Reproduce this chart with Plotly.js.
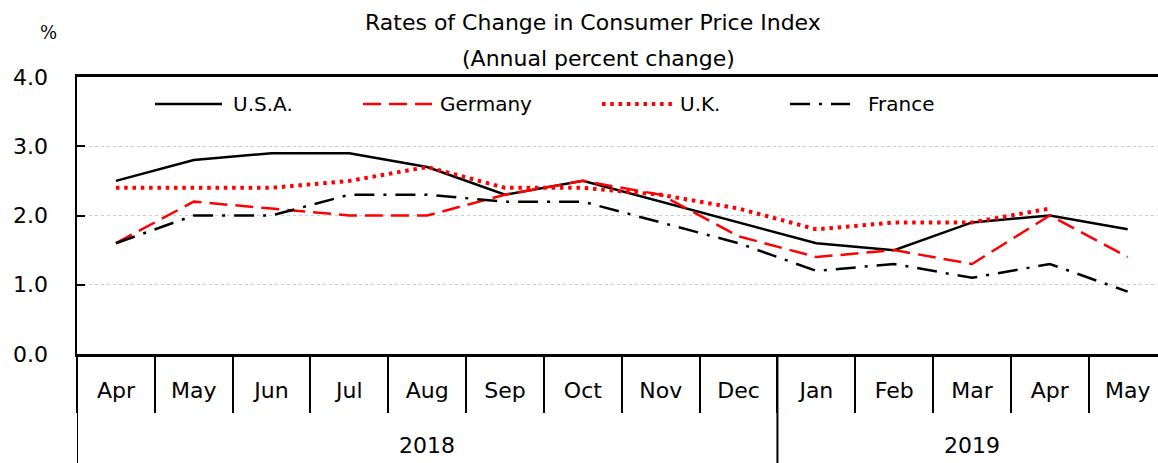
<!DOCTYPE html>
<html>
<head>
<meta charset="utf-8">
<script src="https://cdn.plot.ly/plotly-3.0.1.min.js"></script>
<style>html,body{margin:0;padding:0;background:#fff;}</style>
</head>
<body>
<div id="chart" style="width:1158px;height:463px;"></div>
<script>
const years = ['2018','2018','2018','2018','2018','2018','2018','2018','2018','2019','2019','2019','2019','2019'];
const months = ['Apr','May','Jun','Jul','Aug','Sep','Oct','Nov','Dec','Jan','Feb','Mar','Apr','May'];
const usa = [2.5, 2.8, 2.9, 2.9, 2.7, 2.3, 2.5, 2.2, 1.9, 1.6, 1.5, 1.9, 2.0, 1.8];
const germany = [1.6, 2.2, 2.1, 2.0, 2.0, 2.3, 2.5, 2.3, 1.7, 1.4, 1.5, 1.3, 2.0, 1.4];
const uk = [2.4, 2.4, 2.4, 2.5, 2.7, 2.4, 2.4, 2.3, 2.1, 1.8, 1.9, 1.9, 2.1, null];
const france = [1.6, 2.0, 2.0, 2.3, 2.3, 2.2, 2.2, 1.9, 1.6, 1.2, 1.3, 1.1, 1.3, 0.9];
const yTicks = [0, 1, 2, 3, 4];
const yearLabels = ['2018', '2019'];
const seriesNames = ['U.S.A.', 'Germany', 'U.K.', 'France'];

const FONT = 'DejaVu Sans, Verdana, sans-serif';
const keys = months.map((m, i) => years[i] + ' ' + m);

const styles = [
  {color: '#000000', width: 2.5, dash: 'solid'},
  {color: '#ff0000', width: 2.5, dash: '18px,8px'},
  {color: '#ff0000', width: 4, dash: '3.5px,4.8px'},
  {color: '#000000', width: 2.5, dash: '20px,9px,3px,9px'}
];
const series = [usa, germany, uk, france];
const traces = series.map((s, i) => ({
  type: 'scatter', mode: 'lines', name: seriesNames[i],
  x: keys, y: s,
  line: styles[i], showlegend: false, hoverinfo: 'skip', connectgaps: false
}));

// plot area: x 77..1158, y 77..354
const L = 77, W = 1081, T = 77, H = 277;
const px2x = p => (p - L) / W;
const px2y = p => (T + H - p) / H;

const shapes = [];
const annotations = [];

// custom legend
const legendLine = [[155, 222], [363, 432], [602, 672], [790, 850]];
const legendText = [231, 438, 678, 866];
const legendYpx = 104;
seriesNames.forEach((n, i) => {
  shapes.push({type: 'line', xref: 'paper', yref: 'paper',
    x0: px2x(legendLine[i][0]), x1: px2x(legendLine[i][1]),
    y0: px2y(legendYpx), y1: px2y(legendYpx),
    line: {color: styles[i].color, width: styles[i].width, dash: styles[i].dash}});
  annotations.push({xref: 'paper', yref: 'paper', x: px2x(legendText[i]), y: px2y(legendYpx),
    xanchor: 'left', yanchor: 'middle', showarrow: false, text: n,
    font: {family: FONT, size: 20, color: '#000'}});
});

// titles
annotations.push({xref: 'paper', yref: 'paper', x: px2x(593), y: px2y(22), xanchor: 'center', yanchor: 'middle',
  showarrow: false, text: 'Rates of Change in Consumer Price Index', font: {family: FONT, size: 22, color: '#000'}});
annotations.push({xref: 'paper', yref: 'paper', x: px2x(598), y: px2y(59), xanchor: 'center', yanchor: 'middle',
  showarrow: false, text: '(Annual percent change)', font: {family: FONT, size: 22, color: '#000'}});
annotations.push({xref: 'paper', yref: 'paper', x: px2x(48), y: px2y(33), xanchor: 'center', yanchor: 'middle',
  showarrow: false, text: '%', font: {family: 'DejaVu Serif, serif', size: 18, color: '#000'}});

// year group labels and dividers (derived from the years array)
const bottomY = px2y(463);
shapes.push({type: 'line', xref: 'x', yref: 'paper', x0: -0.5, x1: -0.5, y0: 0, y1: bottomY,
  line: {color: '#000', width: 2}});
yearLabels.forEach(yr => {
  const idx = years.map((y, i) => y === yr ? i : -1).filter(i => i >= 0);
  const first = idx[0], last = idx[idx.length - 1];
  annotations.push({xref: 'x', yref: 'paper', x: (first + last) / 2, y: px2y(445),
    xanchor: 'center', yanchor: 'middle', showarrow: false, text: yr,
    font: {family: FONT, size: 22, color: '#000'}});
  if (first > 0) {
    shapes.push({type: 'line', xref: 'x', yref: 'paper', x0: first - 0.5, x1: first - 0.5, y0: 0, y1: bottomY,
      line: {color: '#000', width: 2}});
  }
});

const layout = {
  width: 1158, height: 463,
  margin: {l: 77, r: 0, t: 77, b: 109, pad: 0},
  paper_bgcolor: '#fff', plot_bgcolor: '#fff',
  font: {family: FONT, size: 22, color: '#000'},
  showlegend: false,
  xaxis: {
    type: 'category', range: [-0.5, 13.39],
    tickvals: keys, ticktext: months,
    showline: true, linecolor: '#000', linewidth: 3, mirror: true,
    ticks: 'outside', tickson: 'boundaries', ticklen: 56, tickwidth: 2, tickcolor: '#000',
    showgrid: false, tickfont: {family: FONT, size: 22, color: '#000'}, ticklabelstandoff: 15
  },
  yaxis: {
    range: [0, 4], tickvals: yTicks, tickformat: '.1f',
    showline: true, linecolor: '#000', linewidth: 2.5,
    ticks: 'inside', ticklen: 8, tickwidth: 2, tickcolor: '#000',
    showgrid: true, gridcolor: '#cfcfcf', gridwidth: 1, griddash: 'dot',
    zeroline: false, ticklabelstandoff: 22,
    tickfont: {family: FONT, size: 22, color: '#000'}
  },
  shapes: shapes,
  annotations: annotations
};
Plotly.newPlot('chart', traces, layout, {staticPlot: true, displayModeBar: false});
</script>
</body>
</html>
